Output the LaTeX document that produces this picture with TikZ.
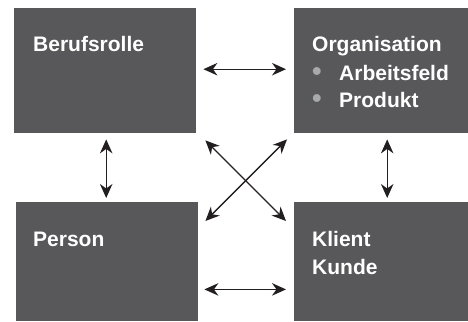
\documentclass[tikz,border=0pt]{standalone}
\usepackage{fontspec}
\setmainfont{Liberation Sans}
\usetikzlibrary{arrows.meta}
\definecolor{boxgray}{HTML}{58585A}
\definecolor{bulletgray}{HTML}{A7A9AC}
\definecolor{arrowblack}{HTML}{231F20}
\newcommand{\bulletitem}[1]{\makebox[27pt][l]{\textcolor{bulletgray}{\scalebox{1.3}{•}}}#1}
\begin{document}
\begin{tikzpicture}[x=1pt,y=1pt]
		\tikzset{field/.style={fill=boxgray, draw=none, anchor=north west, inner sep=0pt}}
		\tikzset{caption/.style={anchor=base west, inner sep=0pt, text=white, font=\bfseries\fontsize{21}{27}\selectfont}}
		\tikzset{link/.style={draw=arrowblack, line width=1.3pt, {Stealth[length=14pt,width=12.5pt,inset=4.5pt]}-{Stealth[length=14pt,width=12.5pt,inset=4.5pt]}}}
		\useasboundingbox (0,0) rectangle (468,-321);
		%boxes
		\node[field, minimum width=182pt, minimum height=125pt] (rolle) at (14,-8) {};
		\node[field, minimum width=174pt, minimum height=125pt] (orga) at (294,-8) {};
		\node[field, minimum width=182pt, minimum height=119pt] (person) at (16,-202) {};
		\node[field, minimum width=174pt, minimum height=119pt] (klient) at (294,-202) {};
		%texts
		\node[caption] (rolletext) at ([shift={(19pt,-44pt)}]rolle.north west) {Berufsrolle};
		\node[caption] (orgatext) at ([shift={(18pt,-44pt)}]orga.north west) {Organisation};
		\node[caption] (feldtext) at ([shift={(18pt,-72pt)}]orga.north west) {\bulletitem{Arbeitsfeld}};
		\node[caption] (produkttext) at ([shift={(18pt,-99.5pt)}]orga.north west) {\bulletitem{Produkt}};
		\node[caption] (persontext) at ([shift={(17pt,-44pt)}]person.north west) {Person};
		\node[caption] (klienttext) at ([shift={(18pt,-44pt)}]klient.north west) {Klient};
		\node[caption] (kundetext) at ([shift={(18pt,-72pt)}]klient.north west) {Kunde};
		%arrows
		\draw[link, shorten <=7pt, shorten >=8pt] ([yshift=1.5pt]rolle.east) -- ([yshift=1.5pt]orga.west);
		\draw[link, shorten <=6pt, shorten >=8pt] ([yshift=32pt]person.south east) -- ([yshift=32pt]klient.south west);
		\draw[link, shorten <=6pt, shorten >=4pt] ([xshift=1pt]rolle.south) -- ([xshift=1pt]rolle.south |- person.north);
		\draw[link, shorten <=6pt, shorten >=4pt] ([xshift=6pt]orga.south) -- ([xshift=6pt]orga.south |- klient.north);
		\draw[link] ([shift={(9pt,-7pt)}]rolle.south east) -- ([shift={(-8pt,-19pt)}]klient.north west);
		\draw[link] ([shift={(-7pt,-6pt)}]orga.south west) -- ([shift={(7pt,-19pt)}]person.north east);
\end{tikzpicture}
\end{document}
